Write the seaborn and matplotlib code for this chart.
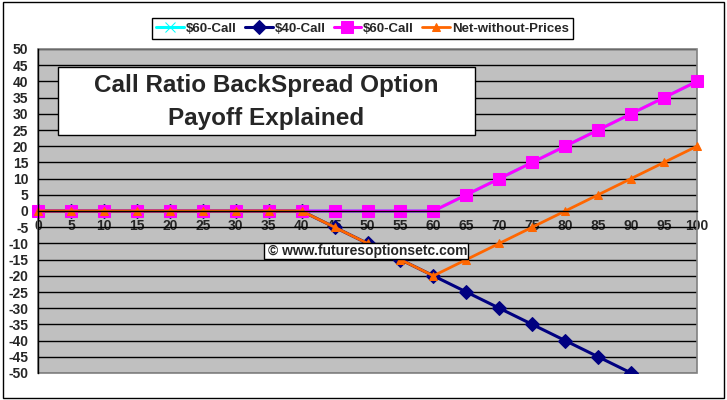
import matplotlib
matplotlib.use("Agg")
import matplotlib.pyplot as plt
from matplotlib.patches import Rectangle
import seaborn as sns

# ---- data ----
strikes = list(range(0, 101, 5))
call60_a = [0, 0, 0, 0, 0, 0, 0, 0, 0, 0, 0, 0, 0, 5, 10, 15, 20, 25, 30, 35, 40]
call40 = [0, 0, 0, 0, 0, 0, 0, 0, 0, -5, -10, -15, -20, -25, -30, -35, -40, -45, -50, -55, -60]
call60_b = [0, 0, 0, 0, 0, 0, 0, 0, 0, 0, 0, 0, 0, 5, 10, 15, 20, 25, 30, 35, 40]
net = [0, 0, 0, 0, 0, 0, 0, 0, 0, -5, -10, -15, -20, -15, -10, -5, 0, 5, 10, 15, 20]
labels = [r"\$60-Call", r"\$40-Call", r"\$60-Call", "Net-without-Prices"]
y_ticks = list(range(-50, 51, 5))
title_lines = ["Call Ratio BackSpread Option", "Payoff Explained"]
watermark = "© www.futuresoptionsetc.com"

sns.set_style("white")
plt.rcParams["font.family"] = ["Liberation Sans", "DejaVu Sans"]
plt.rcParams["font.weight"] = "bold"

W, H = 727, 400
fig = plt.figure(figsize=(W / 100, H / 100), dpi=100)
fig.patch.set_facecolor("white")

L, R, T, B = 38, 697, 49, 373
ax = fig.add_axes([L / W, 1 - B / H, (R - L) / W, (B - T) / H])
ax.set_facecolor("#C0C0C0")

series = [
    (call60_a, "#00FFFF", "x", 7, 2.2, True),
    (call40, "#000080", "D", 7, 2.2, True),
    (call60_b, "#FF00FF", "s", 9, 2.2, False),
    (net, "#FF6600", "^", 5.5, 2.0, False),
]
for (vals, col, mk, ms, lw, clip), lab in zip(series, labels):
    sns.lineplot(x=strikes, y=vals, ax=ax, color=col, marker=mk, markersize=ms,
                 markeredgecolor=col, markerfacecolor=col, linewidth=lw,
                 label=lab, clip_on=clip)

ax.set_xlim(0, 100)
ax.set_ylim(-50, 50)
ax.set_yticks(y_ticks)
ax.set_yticklabels([str(v) for v in y_ticks])
ax.set_xticks(strikes)
ax.set_xticklabels([str(v) for v in strikes])
ax.set_xlabel("")
ax.set_ylabel("")

ax.set_axisbelow(True)
ax.yaxis.grid(True, color="black", linewidth=1)
ax.xaxis.grid(False)

for s in ["top", "right"]:
    ax.spines[s].set_visible(False)
ax.spines["left"].set_color("black")
ax.spines["left"].set_linewidth(1)
ax.spines["bottom"].set_position(("data", 0))
ax.spines["bottom"].set_color("black")
ax.spines["bottom"].set_linewidth(1)
ax.add_patch(Rectangle((0, 0), 1, 1, transform=ax.transAxes, fill=False,
                       edgecolor="#808080", linewidth=1.2, clip_on=False, zorder=1))

ax.tick_params(axis="x", direction="out", length=4, width=1, color="black",
               pad=2, labelsize=10)
ax.tick_params(axis="y", direction="out", length=5, width=1, color="black",
               pad=2, labelsize=10)
for t in ax.get_xticklabels() + ax.get_yticklabels():
    t.set_fontweight("bold")

leg = ax.legend(loc="center", bbox_to_anchor=(362.5 / W, 1 - 28.5 / H),
                bbox_transform=fig.transFigure, ncol=4, frameon=True,
                fancybox=False, edgecolor="black", framealpha=1,
                borderpad=0.35, handlelength=2.1, handletextpad=0.15,
                columnspacing=0.6, prop={"weight": "bold", "size": 9.5})
leg.get_frame().set_linewidth(1)

# title box
fig.add_artist(Rectangle((58 / W, 1 - 135 / H), (475 - 58) / W, (135 - 67) / H,
                         transform=fig.transFigure, facecolor="white",
                         edgecolor="black", linewidth=1, zorder=5))
fig.text(266 / W, 1 - 92 / H, title_lines[0], ha="center", va="baseline",
         fontsize=17.5, fontweight="bold", zorder=6)
fig.text(266 / W, 1 - 125 / H, title_lines[1], ha="center", va="baseline",
         fontsize=17.5, fontweight="bold", zorder=6)

# watermark box
fig.add_artist(Rectangle((264 / W, 1 - 259 / H), (468 - 264) / W, (259 - 243) / H,
                         transform=fig.transFigure, facecolor="white",
                         edgecolor="black", linewidth=1, zorder=5))
fig.text(268 / W, 1 - 251 / H, watermark, ha="left", va="center",
         fontsize=10, fontweight="bold", zorder=6)

# chart border
fig.add_artist(Rectangle((3 / W, 2 / H), 721 / W, 396 / H, transform=fig.transFigure,
                         fill=False, edgecolor="black", linewidth=1, zorder=7))

fig.savefig("out.png", dpi=100)
